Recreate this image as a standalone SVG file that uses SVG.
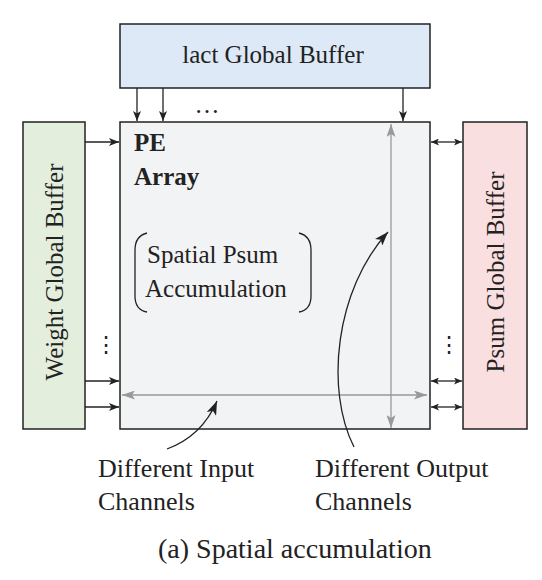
<svg xmlns="http://www.w3.org/2000/svg" width="542" height="580" viewBox="0 0 542 580">
<style>
.box{stroke:#222;stroke-width:1.5}
.t{font-family:"Liberation Serif",serif;font-size:25px;fill:#222}
.l{font-size:26px}
.b{font-weight:bold}
.blk{stroke:#222;stroke-width:1.3;fill:none}
.gry{stroke:#999;stroke-width:1.3;fill:none}
</style>
<defs>
<marker id="ab" viewBox="0 0 10 8" refX="10" refY="4" markerWidth="10" markerHeight="8" markerUnits="userSpaceOnUse" orient="auto-start-reverse">
<path d="M0,0 L10,4 L0,8 L2.5,4 Z" fill="#222"/>
</marker>
<marker id="as" viewBox="0 0 8 7" refX="8" refY="3.5" markerWidth="8" markerHeight="7" markerUnits="userSpaceOnUse" orient="auto-start-reverse">
<path d="M0,0 L8,3.5 L0,7 L2,3.5 Z" fill="#222"/>
</marker>
<marker id="ag" viewBox="0 0 13 9" refX="13" refY="4.5" markerWidth="13" markerHeight="9" markerUnits="userSpaceOnUse" orient="auto-start-reverse">
<path d="M0,0 L13,4.5 L0,9 L3,4.5 Z" fill="#999"/>
</marker>
<marker id="ac" viewBox="0 0 14 10" refX="14" refY="5" markerWidth="14" markerHeight="10" markerUnits="userSpaceOnUse" orient="auto">
<path d="M0,0 L14,5 L0,10 L3.5,5 Z" fill="#222"/>
</marker>
</defs>

<g id="iact">
<rect class="box" x="120" y="24" width="310" height="64" fill="#dde9f6"/>
<text class="t" x="273" y="63" text-anchor="middle">lact Global Buffer</text>
</g>

<g id="pe-array">
<rect class="box" x="120" y="122" width="310" height="307" fill="#f2f3f5"/>
<text class="t b" x="134" y="151">PE</text>
<text class="t b" x="134" y="185">Array</text>
</g>

<g id="weight">
<rect class="box" x="23" y="122" width="62" height="307" fill="#e3efdc"/>
<text class="t" transform="translate(63,272) rotate(-90)" text-anchor="middle">Weight Global Buffer</text>
</g>

<g id="psum">
<rect class="box" x="463" y="122" width="64" height="307" fill="#f9dfe0"/>
<text class="t" transform="translate(504,272) rotate(-90)" text-anchor="middle">Psum Global Buffer</text>
</g>

<g id="spatial-psum">
<path class="blk" d="M147,233 Q135,236 135,250 L135,296 Q135,310 147,312"/>
<path class="blk" d="M299,233 Q311,236 311,250 L311,296 Q311,310 299,312"/>
<text class="t" x="147" y="263">Spatial Psum</text>
<text class="t" x="145" y="297">Accumulation</text>
</g>

<g id="connectors">
<line class="blk" x1="137" y1="88" x2="137" y2="121" marker-end="url(#ab)"/>
<line class="blk" x1="163" y1="88" x2="163" y2="121" marker-end="url(#ab)"/>
<line class="blk" x1="403" y1="88" x2="403" y2="121" marker-end="url(#ab)"/>
<line class="blk" x1="85" y1="142" x2="119" y2="142" marker-end="url(#ab)"/>
<line class="blk" x1="85" y1="381" x2="119" y2="381" marker-end="url(#ab)"/>
<line class="blk" x1="85" y1="407" x2="119" y2="407" marker-end="url(#ab)"/>
<line class="blk" x1="431" y1="142" x2="462" y2="142" marker-start="url(#as)" marker-end="url(#as)"/>
<line class="blk" x1="431" y1="381" x2="462" y2="381" marker-start="url(#as)" marker-end="url(#as)"/>
<line class="blk" x1="431" y1="407" x2="462" y2="407" marker-start="url(#as)" marker-end="url(#as)"/>
<line class="gry" x1="122" y1="395" x2="427" y2="395" marker-start="url(#ag)" marker-end="url(#ag)"/>
<line class="gry" x1="391" y1="124" x2="391" y2="428" marker-start="url(#ag)" marker-end="url(#ag)"/>
<path class="blk" d="M167,449 Q202,436 217,401" marker-end="url(#ac)"/>
<path class="blk" d="M354,447 C325,390 335,290 388,232" marker-end="url(#ac)"/>
</g>

<g id="labels">
<text class="t" x="207" y="113" text-anchor="middle">…</text>
<text x="106" y="352" text-anchor="middle" style="font-family:'DejaVu Serif',serif;font-size:22px;fill:#222">⋮</text>
<text x="449" y="352" text-anchor="middle" style="font-family:'DejaVu Serif',serif;font-size:22px;fill:#222">⋮</text>
<text class="t l" x="98" y="477">Different Input</text>
<text class="t l" x="98" y="510">Channels</text>
<text class="t l" x="315" y="477">Different Output</text>
<text class="t l" x="315" y="510">Channels</text>
<text class="t" x="158" y="558" style="font-size:28px">(a) Spatial accumulation</text>
</g>
</svg>
